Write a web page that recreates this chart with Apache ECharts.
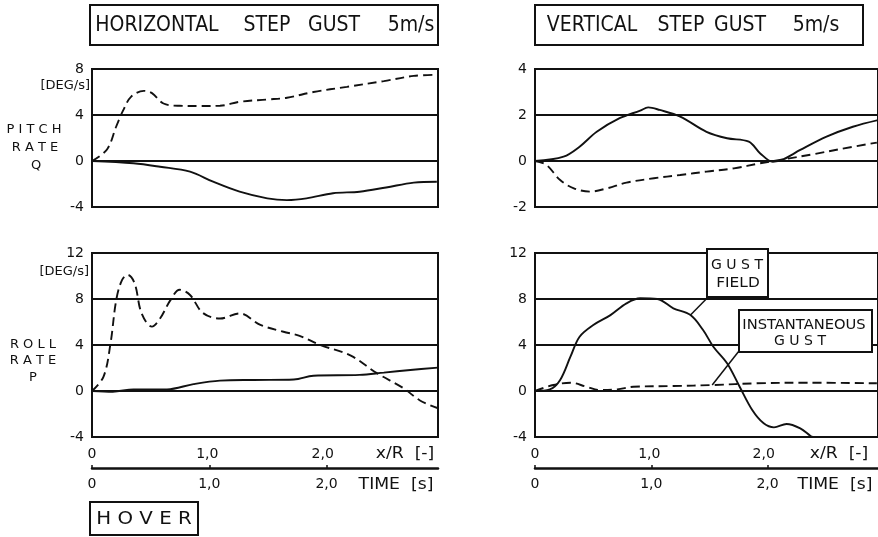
<!DOCTYPE html>
<html>
<head>
<meta charset="utf-8">
<script src="https://cdn.jsdelivr.net/npm/echarts@6/dist/echarts.min.js"></script>
<style>
  html, body { margin: 0; padding: 0; background: #fff; }
  #chart { width: 878px; height: 537px; }
</style>
</head>
<body>
<div id="chart"></div>
<script>
// Helicopter hover response to 5 m/s step gusts (x in x/R units)

// Horizontal gust, pitch rate Q [deg/s]
const pitchHorizDashed = [[0,0],[0.13,1.0],[0.21,3.0],[0.27,4.4],[0.34,5.6],[0.45,6.1],[0.52,5.9],[0.62,5.0],[0.76,4.8],[0.94,4.78],[1.11,4.8],[1.28,5.15],[1.52,5.35],[1.69,5.5],[1.92,6.0],[2.21,6.45],[2.53,6.95],[2.79,7.4],[2.99,7.5]];
const pitchHorizSolid = [[0,0],[0.36,-0.2],[0.59,-0.5],[0.85,-0.93],[1.05,-1.8],[1.28,-2.67],[1.52,-3.25],[1.69,-3.4],[1.86,-3.25],[2.09,-2.8],[2.32,-2.67],[2.55,-2.3],[2.79,-1.88],[2.99,-1.8]];

// Horizontal gust, roll rate P [deg/s]
const rollHorizDashed = [[0,0],[0.1,1.25],[0.16,4.1],[0.21,7.9],[0.26,9.65],[0.31,10.1],[0.37,9.35],[0.43,6.75],[0.52,5.6],[0.59,6.3],[0.68,7.9],[0.76,8.8],[0.85,8.35],[0.96,6.8],[1.11,6.3],[1.28,6.75],[1.46,5.75],[1.66,5.15],[1.8,4.8],[1.98,4.0],[2.24,3.1],[2.47,1.55],[2.7,0.25],[2.84,-0.8],[3.0,-1.5]];
const rollHorizSolid = [[0,0],[0.18,-0.06],[0.36,0.14],[0.65,0.14],[0.88,0.6],[1.11,0.9],[1.4,0.96],[1.75,1.0],[1.92,1.33],[2.32,1.4],[2.53,1.6],[2.76,1.83],[3.0,2.03]];

// Vertical gust, pitch rate Q [deg/s]
const pitchVertSolid = [[0,0],[0.25,0.19],[0.39,0.62],[0.54,1.27],[0.74,1.86],[0.92,2.19],[0.99,2.33],[1.09,2.22],[1.27,1.93],[1.5,1.27],[1.68,0.99],[1.87,0.84],[1.97,0.33],[2.08,-0.03],[2.17,0.07],[2.32,0.48],[2.55,1.06],[2.78,1.49],[3.0,1.78]];
const pitchVertDashed = [[0,0],[0.1,-0.17],[0.22,-0.83],[0.34,-1.19],[0.48,-1.33],[0.63,-1.19],[0.8,-0.94],[1.04,-0.75],[1.27,-0.61],[1.5,-0.46],[1.74,-0.32],[1.97,-0.1],[2.17,0.07],[2.44,0.3],[2.67,0.52],[2.99,0.8]];

// Vertical gust, roll rate P [deg/s]: gust field (solid) and instantaneous gust (dashed)
const rollVertGustField = [[0,0],[0.13,0.14],[0.22,0.96],[0.31,2.98],[0.39,4.72],[0.51,5.74],[0.66,6.6],[0.8,7.62],[0.92,8.06],[1.07,8.0],[1.21,7.19],[1.36,6.6],[1.47,5.3],[1.56,3.85],[1.68,2.41],[1.79,0.37],[1.9,-1.65],[2.0,-2.81],[2.09,-3.16],[2.2,-2.87],[2.32,-3.25],[2.41,-3.91],[2.43,-4.0]];
const rollVertInstant = [[0,0],[0.16,0.52],[0.31,0.72],[0.45,0.37],[0.57,0.09],[0.72,0.14],[0.86,0.37],[1.21,0.43],[1.56,0.52],[1.94,0.67],[2.38,0.72],[2.99,0.67]];

// Axis ranges and tick labels
const xRange = [0, 3];
const timeMax = 2.95;
const pitchHorizRange = [-4, 8, 4];
const rollRange = [-4, 12, 4];
const pitchVertRange = [-2, 4, 2];
const xTickLabels = { 0: '0', 1: '1,0', 2: '2,0' };

// Title words
const titleHoriz = ['HORIZONTAL', 'STEP', 'GUST', '5m/s'];
const titleVert = ['VERTICAL', 'STEP', 'GUST', '5m/s'];

// Leader lines from curve points to the annotation boxes
const gustFieldLeader = [[1.36, 6.6], [1.502, 8.05]];
const instantLeader = [[1.55, 0.52], [1.779, 3.42]];

const FONT = "'DejaVu Sans', sans-serif";
const INK = '#111';

function xLabel(v) {
  const k = Math.round(v);
  return Math.abs(v - k) < 1e-6 && xTickLabels[k] !== undefined ? xTickLabels[k] : '';
}

function yAxisDef(gridIndex, r) {
  return {
    type: 'value', gridIndex, min: r[0], max: r[1], interval: r[2],
    axisLine: { show: false }, axisTick: { show: false },
    axisLabel: { color: INK, fontSize: 14, fontFamily: FONT, margin: 8 },
    splitLine: { show: true, lineStyle: { color: INK, width: 2 } }
  };
}

function xHidden(gridIndex) {
  return {
    type: 'value', gridIndex, min: xRange[0], max: xRange[1], interval: 1,
    axisLine: { show: false }, axisTick: { show: false },
    axisLabel: { show: false }, splitLine: { show: false }
  };
}

function xRatio(gridIndex) {
  return {
    type: 'value', gridIndex, min: xRange[0], max: xRange[1], interval: 1,
    position: 'bottom',
    axisLine: { show: false }, axisTick: { show: false },
    axisLabel: { color: INK, fontSize: 14, fontFamily: FONT, margin: 10, formatter: xLabel, showMaxLabel: false },
    splitLine: { show: false }
  };
}

function xTime(gridIndex) {
  return {
    type: 'value', gridIndex, min: 0, max: timeMax, interval: 1,
    position: 'bottom', offset: 31,
    axisLine: { show: true, lineStyle: { color: INK, width: 2.5 } },
    axisTick: { show: true, length: 3, inside: true, lineStyle: { color: INK, width: 1.5 } },
    axisLabel: { color: INK, fontSize: 14, fontFamily: FONT, margin: 9, formatter: xLabel, showMaxLabel: false },
    splitLine: { show: false }
  };
}

function lineSeries(xi, yi, data, dashed, extra) {
  return Object.assign({
    type: 'line', xAxisIndex: xi, yAxisIndex: yi, data,
    showSymbol: false, symbol: 'none', smooth: 0.35, animation: false,
    lineStyle: { color: INK, width: 1.9, type: dashed ? [9, 5] : 'solid' },
    clip: true, silent: true
  }, extra || {});
}

function leader(pair) {
  return {
    silent: true, symbol: ['none', 'none'], animation: false,
    label: { show: false },
    lineStyle: { color: INK, width: 1.5, type: 'solid' },
    data: [[{ coord: pair[0] }, { coord: pair[1] }]]
  };
}

// text element placed at (x, y), optionally squeezed/stretched horizontally
function txt(text, x, y, size, align, sx) {
  return {
    type: 'text', silent: true, x, y, scaleX: sx || 1, z: 20,
    style: {
      text, x: 0, y: 0, fill: INK,
      font: size + 'px ' + FONT,
      textAlign: align || 'center', align: align || 'center',
      textVerticalAlign: 'middle', verticalAlign: 'middle'
    }
  };
}

// framed label box, filled white so grid lines stop at its edges
function box(x, y, w, h) {
  return { type: 'rect', silent: true, z: 10, shape: { x, y, width: w, height: h },
    style: { fill: '#fff', stroke: INK, lineWidth: 2 } };
}

function titleText(words, centers) {
  return words.map((w, i) => txt(w, centers[i], 26, 21, 'center', 0.9));
}

const gridStyle = { show: true, borderColor: INK, borderWidth: 2, backgroundColor: 'transparent' };

const chart = echarts.init(document.getElementById('chart'), null, { renderer: 'canvas' });
chart.setOption({
  backgroundColor: '#fff',
  animation: false,
  grid: [
    Object.assign({ left: 92, top: 69, width: 346, height: 138 }, gridStyle),
    Object.assign({ left: 92, top: 253, width: 346, height: 184 }, gridStyle),
    Object.assign({ left: 535, top: 69, width: 346, height: 138 }, gridStyle),
    Object.assign({ left: 535, top: 253, width: 346, height: 184 }, gridStyle)
  ],
  xAxis: [xHidden(0), xRatio(1), xTime(1), xHidden(2), xRatio(3), xTime(3)],
  yAxis: [yAxisDef(0, pitchHorizRange), yAxisDef(1, rollRange), yAxisDef(2, pitchVertRange), yAxisDef(3, rollRange)],
  series: [
    lineSeries(0, 0, pitchHorizDashed, true),
    lineSeries(0, 0, pitchHorizSolid, false),
    lineSeries(1, 1, rollHorizDashed, true),
    lineSeries(1, 1, rollHorizSolid, false),
    lineSeries(3, 2, pitchVertSolid, false),
    lineSeries(3, 2, pitchVertDashed, true),
    lineSeries(4, 3, rollVertGustField, false, { markLine: leader(gustFieldLeader) }),
    lineSeries(4, 3, rollVertInstant, true, { markLine: leader(instantLeader) })
  ],
  graphic: [
    // panel titles
    box(90, 5, 348, 40),
    ...titleText(titleHoriz, [157, 267, 334, 411]),
    box(535, 5, 328, 40),
    ...titleText(titleVert, [592, 681, 740, 816]),
    // units and quantity names
    txt('[DEG/s]', 90, 86, 13, 'right'),
    txt('[DEG/s]', 89, 272, 13, 'right'),
    txt('P I T C H', 34, 130, 13),
    txt('R A T E', 35, 148, 13),
    txt('Q', 36, 166, 13),
    txt('R O L L', 33, 345, 13),
    txt('R A T E', 33, 361, 13),
    txt('P', 33, 378, 13),
    // axis names
    txt('x/R  [-]', 405, 454, 15, 'center', 1.15),
    txt('TIME  [s]', 396, 485, 15, 'center', 1.15),
    txt('x/R  [-]', 839, 454, 15, 'center', 1.15),
    txt('TIME  [s]', 835, 485, 15, 'center', 1.15),
    // flight condition
    box(90, 502, 108, 33),
    txt('H O V E R', 144, 519, 18, 'center', 1.1),
    // annotations
    box(707, 249, 61, 48),
    txt('G U S T', 737, 265, 14),
    txt('FIELD', 738, 283, 14, 'center', 1.1),
    box(739, 310, 133, 42),
    txt('INSTANTANEOUS', 804, 325, 14, 'center', 1.05),
    txt('G U S T', 800, 341, 14)
  ]
});
</script>
</body>
</html>
